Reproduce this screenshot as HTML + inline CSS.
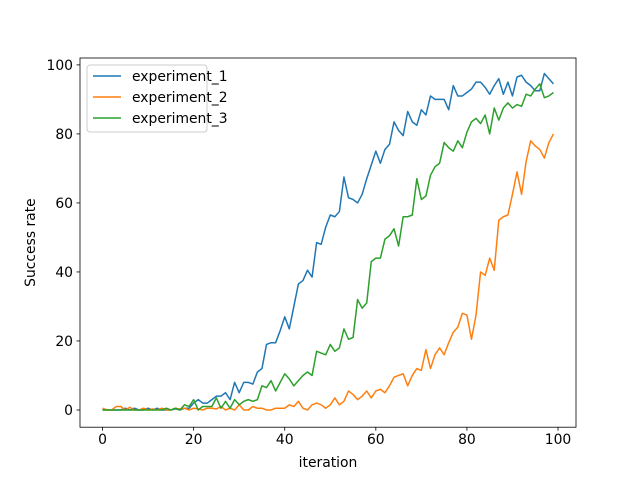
<!DOCTYPE html>
<html><head><meta charset="utf-8"><style>body{margin:0;background:#fff}svg{display:block;font-family:"DejaVu Sans","Liberation Sans",sans-serif}</style></head>
<body>
<svg id="chart" width="640" height="480">
<rect x="0" y="0" width="640" height="480" fill="#fff"/>
<g id="plot"></g>
</svg>
<script>
const xTicks=[0,20,40,60,80,100];
const yTicks=[0,20,40,60,80,100];
const seriesNames=["experiment_1","experiment_2","experiment_3"];
const exp1=[0,0,0,0,0,0.5,0,0.5,0,0,0.5,0,0.5,0,0,0,0.3,0,0.5,0.5,
2,3,2,2,3,4,4,5,3,8,5,8,8,7.5,11,12,19,19.5,19.5,23,
27,23.5,30,36.5,37.5,40.5,38.5,48.5,48,53,56.5,56,57.5,67.5,61.5,61,60,62.5,67,71,
75,71.5,75.5,77,83.5,81,79.5,86.5,83.5,82.5,87,85.5,91,90,90,90,87,94,91,91,
92,93,95,95,93.5,91.5,94,96,91.5,95,91,96.5,97,95,94,92.5,92.5,97.5,96,94.5];
const exp2=[0.5,0,0,1,1,0,0.8,0,0,0.5,0,0.3,0,0.5,0,0,0.5,0.3,0.5,0,
0.5,0.3,0,0.5,0.5,0.3,1,0,0.5,0,1.5,0,0,1,0.5,0.5,0,0,0.5,0.5,
0.5,1.5,1,2.5,0.5,0,1.5,2,1.5,0.5,1.5,3.5,1.5,2.5,5.5,4.5,3,4,5.5,3.5,
5.5,6,5,7,9.5,10,10.5,7,10,12,11.5,17.5,12,16,18,16,19.5,22.5,24,28,
27.5,20.5,27.5,40,39,44,40.5,55,56,56.5,62.5,69,62.5,72,78,76.5,75.5,73,77.5,80];
const exp3=[0,0,0,0,0,0,0,0,0,0,0,0,0,0,0.5,0,0.5,0,1.5,1,
3,0,1,1,1,3.5,0.5,2.5,0.5,3,1.5,2.5,3,2.5,3,7,6.5,8.5,5.5,8,
10.5,9,7,8.5,10,11,10,17,16.5,16,19,17,18,23.5,20.5,21,32,29.5,31,43,
44,44,49.5,50.5,52.5,47.5,56,56,56.5,67,61,62,68,70.5,71.5,77.5,76,75,78,76,
80.5,83.5,84.5,83,85.5,80,87.5,84,87.5,89,87.5,88.5,88,91.5,91,93,94.5,90.5,91,92];
const colors=["#1f77b4","#ff7f0e","#2ca02c"];
const L=80,R=576,T=58,B=427.2;
const xmin=-4.95,xmax=103.95,ymin=-4.99,ymax=102.0;
const xs=v=>L+(v-xmin)/(xmax-xmin)*(R-L);
const ys=v=>B-(v-ymin)/(ymax-ymin)*(B-T);
const NS="http://www.w3.org/2000/svg";
const g=document.getElementById('plot');
function mk(t,a,txt){const e=document.createElementNS(NS,t);for(const k in a)e.setAttribute(k,a[k]);if(txt!=null)e.textContent=txt;g.appendChild(e);return e;}
[exp1,exp2,exp3].forEach((s,i)=>{
  const p=mk('polyline',{points:s.map((v,j)=>xs(j).toFixed(2)+','+ys(v).toFixed(2)).join(' '),fill:'none',stroke:colors[i],'stroke-width':1.5,'stroke-linejoin':'round'});
  
  
});
const fr=mk('rect',{x:L,y:T,width:R-L,height:B-T,fill:'none',stroke:'#000','stroke-width':0.8});


xTicks.forEach(t=>{
  const x=xs(t);
  const tk=mk('line',{x1:x,x2:x,y1:B,y2:B+3.5,stroke:'#000','stroke-width':0.8});
  
  
  const lb=mk('text',{x:x,y:B+17,'text-anchor':'middle','font-size':13.9,fill:'#000'},String(t));
  
  
});
yTicks.forEach(t=>{
  const y=ys(t);
  const tk=mk('line',{x1:L-3.5,x2:L,y1:y,y2:y,stroke:'#000','stroke-width':0.8});
  
  
  const lb=mk('text',{x:L-7,y:y+5,'text-anchor':'end','font-size':13.9,fill:'#000'},String(t));
  
  
});
const xt=mk('text',{x:(L+R)/2,y:467,'text-anchor':'middle','font-size':13.9},'iteration');


const yt=mk('text',{x:0,y:0,'text-anchor':'middle','font-size':13.9,transform:`translate(35,${(T+B)/2}) rotate(-90)`},'Success rate');


const lg=mk('rect',{x:87,y:65,width:120,height:67,rx:3,fill:'#fff','fill-opacity':0.8,stroke:'#ccc','stroke-width':1});


seriesNames.forEach((n,i)=>{
  const y=76+i*21;
  const ln=mk('line',{x1:93,x2:121,y1:y,y2:y,stroke:colors[i],'stroke-width':1.5});
  
  
  const tx=mk('text',{x:132,y:y+5,'font-size':13.9},n);
  
  
});
</script>
</body></html>
